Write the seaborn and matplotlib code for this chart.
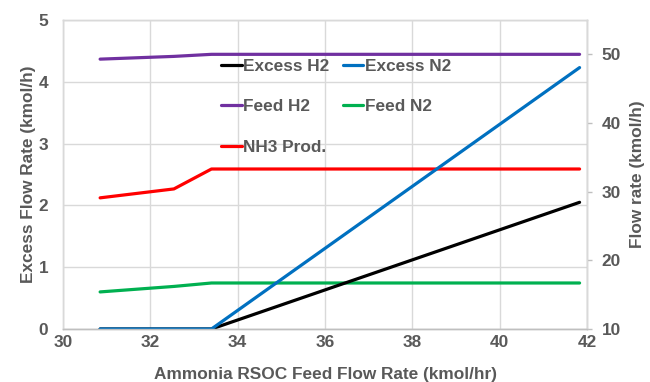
import matplotlib
matplotlib.use("Agg")
import matplotlib.pyplot as plt
from matplotlib import font_manager as fm
import seaborn as sns
import pandas as pd
import glob

# Data
feed_rate = [30.85, 32.54, 33.4, 41.83]
excess_h2 = [0.0, 0.0, 0.0, 2.05]      # left axis (kmol/h)
excess_n2 = [0.0, 0.0, 0.0, 4.23]      # left axis (kmol/h)
feed_h2 = [49.3, 49.7, 50.0, 50.0]     # right axis (kmol/h)
feed_n2 = [15.4, 16.2, 16.7, 16.7]     # right axis (kmol/h)
nh3_prod = [29.1, 30.4, 33.3, 33.3]    # right axis (kmol/h)

left_ticks = [0, 1, 2, 3, 4, 5]
right_ticks = [10, 20, 30, 40, 50]
x_ticks = [30, 32, 34, 36, 38, 40, 42]

sns.set_theme(style="white")
found = []
for pat in ['/usr/share/fonts/**/LiberationSans-Bold.ttf', '/usr/**/LiberationSans-Bold.ttf']:
    found = glob.glob(pat, recursive=True)
    if found:
        break
fam = 'Roboto'
if found:
    fm.fontManager.addfont(found[0])
    fam = fm.FontProperties(fname=found[0]).get_name()
plt.rcParams['font.family'] = [fam, 'DejaVu Sans']
plt.rcParams['font.weight'] = 'bold'

TXT = '#595959'
GRID = '#D9D9D9'
FS = 12.4

df = pd.DataFrame({'x': feed_rate, 'Excess H2': excess_h2, 'Excess N2': excess_n2,
                   'Feed H2': feed_h2, 'Feed N2': feed_n2, 'NH3 Prod.': nh3_prod})

fig = plt.figure(figsize=(6.5, 3.82), dpi=100)
ax = fig.add_axes([63/650, 1-329/382, (587-63)/650, (329-20)/382])
ax2 = ax.twinx()

lw = 2.3
sns.lineplot(data=df, x='x', y='Excess H2', ax=ax, color='black', lw=lw, label='Excess H2', legend=False)
sns.lineplot(data=df, x='x', y='Excess N2', ax=ax, color='#0070C0', lw=lw, label='Excess N2', legend=False)
sns.lineplot(data=df, x='x', y='Feed H2', ax=ax2, color='#7030A0', lw=lw, label='Feed H2', legend=False)
sns.lineplot(data=df, x='x', y='Feed N2', ax=ax2, color='#00B050', lw=lw, label='Feed N2', legend=False)
sns.lineplot(data=df, x='x', y='NH3 Prod.', ax=ax2, color='#FF0000', lw=lw, label='NH3 Prod.', legend=False)

ax.set_xlim(30, 42)
ax.set_ylim(0, 5)
ax2.set_ylim(10, 55)
ax.set_xticks(x_ticks)
ax.set_yticks(left_ticks)
ax2.set_yticks(right_ticks)
for a in (ax, ax2):
    for s in a.spines.values():
        s.set_color(GRID)
        s.set_linewidth(1)
ax.spines['bottom'].set_color('#BFBFBF')
ax2.spines['bottom'].set_color('#BFBFBF')
ax2.spines['right'].set_color('#BFBFBF')

ax.tick_params(axis='y', length=0, labelsize=FS, labelcolor=TXT, pad=10.5)
ax.tick_params(axis='x', length=0, labelsize=FS, labelcolor=TXT, pad=4.5)
ax2.tick_params(axis='y', length=3.6, width=1, color='#BFBFBF', labelsize=FS, labelcolor=TXT, pad=7, direction='out')
for lab in ax.get_xticklabels() + ax.get_yticklabels() + ax2.get_yticklabels():
    lab.set_fontweight('bold')

ax.set_xlabel('Ammonia RSOC Feed Flow Rate (kmol/hr)', fontsize=FS, color=TXT, fontweight='bold', labelpad=12)
ax.set_ylabel('Excess Flow Rate (kmol/h)', fontsize=FS, color=TXT, fontweight='bold', labelpad=2)
ax2.set_ylabel('Flow rate (kmol/h)', fontsize=FS, color=TXT, fontweight='bold', labelpad=6.5)

ax2.set_zorder(ax.get_zorder() - 1)
ax.patch.set_visible(False)
ax2.patch.set_visible(True)
ax2.patch.set_facecolor('white')
for t in x_ticks:
    ax2.axvline(t, color=GRID, lw=1, zorder=0)
for t in left_ticks:
    ax2.axhline(10 + t * 9, color=GRID, lw=1, zorder=0)

h1, l1 = ax.get_legend_handles_labels()
h2, l2 = ax2.get_legend_handles_labels()
hd = dict(zip(l1 + l2, h1 + h2))
order = ['Excess H2', 'Feed H2', 'NH3 Prod.', 'Excess N2', 'Feed N2']
leg = fig.legend([hd[k] for k in order], order, loc='upper left',
                 bbox_to_anchor=(221/650, 1-59/382), ncol=2, frameon=False,
                 fontsize=FS, handlelength=1.2, handletextpad=0.1,
                 columnspacing=0.75, labelspacing=1.47, borderpad=0, borderaxespad=0)
for t in leg.get_texts():
    t.set_color(TXT)
    t.set_fontweight('bold')

fig.savefig('out.png', dpi=100, facecolor='white')
